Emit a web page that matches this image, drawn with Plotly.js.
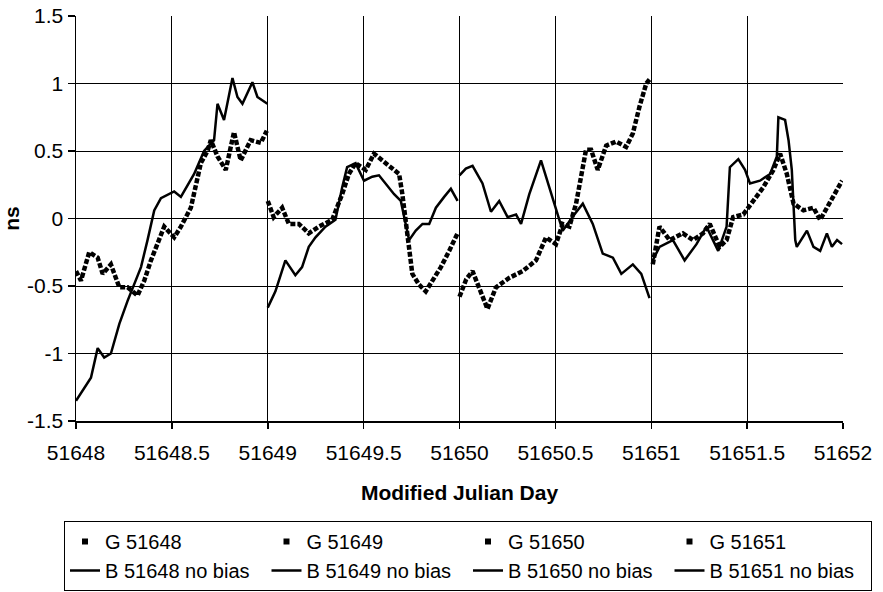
<!DOCTYPE html>
<html>
<head>
<meta charset="utf-8">
<script src="https://cdn.plot.ly/plotly-3.0.1.min.js"></script>
<style>html,body{margin:0;padding:0;background:#fff;}#chart{width:883px;height:592px;}</style>
</head>
<body>
<div id="chart"></div>
<script>
// ---- data ----
const G48_x = [51648.000,51648.026,51648.069,51648.113,51648.139,51648.182,51648.226,51648.269,51648.321,51648.356,51648.391,51648.425,51648.460,51648.512,51648.547,51648.599,51648.634,51648.651,51648.686,51648.703,51648.738,51648.781,51648.824,51648.859,51648.911,51648.964,51648.995];
const G48_y = [-0.39,-0.46,-0.25,-0.29,-0.41,-0.34,-0.51,-0.51,-0.57,-0.46,-0.31,-0.18,-0.06,-0.14,-0.06,0.08,0.28,0.41,0.50,0.58,0.46,0.36,0.64,0.43,0.58,0.56,0.65];
const B48_x = [51648.000,51648.078,51648.113,51648.147,51648.182,51648.226,51648.269,51648.304,51648.339,51648.373,51648.408,51648.443,51648.512,51648.547,51648.616,51648.668,51648.720,51648.738,51648.772,51648.816,51648.842,51648.868,51648.920,51648.946,51648.998];
const B48_y = [-1.35,-1.18,-0.96,-1.03,-1.00,-0.78,-0.61,-0.48,-0.36,-0.16,0.06,0.15,0.20,0.16,0.33,0.50,0.58,0.85,0.73,1.04,0.90,0.85,1.01,0.90,0.85];

const G49_x = [51649.000,51649.031,51649.075,51649.110,51649.162,51649.214,51649.267,51649.336,51649.388,51649.423,51649.458,51649.511,51649.554,51649.597,51649.650,51649.685,51649.702,51649.720,51649.737,51649.754,51649.789,51649.824,51649.859,51649.903,51649.946,51649.990];
const G49_y = [0.13,0.01,0.08,-0.04,-0.04,-0.11,-0.06,-0.01,0.18,0.33,0.41,0.36,0.48,0.43,0.36,0.33,0.18,-0.04,-0.26,-0.41,-0.49,-0.54,-0.46,-0.36,-0.24,-0.11];
const B49_x = [51649.000,51649.040,51649.092,51649.144,51649.179,51649.214,51649.249,51649.301,51649.353,51649.388,51649.414,51649.458,51649.502,51649.545,51649.580,51649.615,51649.659,51649.694,51649.720,51649.737,51649.772,51649.807,51649.842,51649.877,51649.920,51649.955,51649.990];
const B49_y = [-0.66,-0.54,-0.31,-0.42,-0.36,-0.21,-0.14,-0.06,-0.01,0.23,0.38,0.41,0.28,0.31,0.32,0.26,0.18,0.13,-0.06,-0.16,-0.09,-0.04,-0.04,0.08,0.16,0.22,0.13];

const G50_x = [51650.000,51650.035,51650.068,51650.103,51650.146,51650.190,51650.259,51650.329,51650.399,51650.451,51650.503,51650.538,51650.573,51650.608,51650.634,51650.660,51650.686,51650.721,51650.765,51650.817,51650.869,51650.904,51650.939,51650.974,51650.991];
const G50_y = [-0.58,-0.45,-0.39,-0.51,-0.67,-0.51,-0.44,-0.39,-0.31,-0.14,-0.19,-0.04,-0.06,0.11,0.31,0.51,0.51,0.36,0.54,0.57,0.53,0.63,0.83,1.00,1.03];
const B50_x = [51650.000,51650.033,51650.068,51650.120,51650.164,51650.207,51650.251,51650.295,51650.321,51650.364,51650.425,51650.468,51650.503,51650.538,51650.599,51650.643,51650.695,51650.747,51650.800,51650.844,51650.904,51650.948,51650.991];
const B50_y = [0.32,0.37,0.39,0.26,0.05,0.13,0.01,0.03,-0.04,0.18,0.43,0.23,0.06,-0.09,0.03,0.11,-0.04,-0.26,-0.29,-0.41,-0.34,-0.41,-0.59];

const G51_x = [51651.008,51651.043,51651.096,51651.165,51651.218,51651.270,51651.305,51651.357,51651.393,51651.427,51651.480,51651.532,51651.584,51651.637,51651.672,51651.707,51651.724,51651.742,51651.794,51651.846,51651.881,51651.916,51651.951,51651.995];
const G51_y = [-0.34,-0.06,-0.16,-0.11,-0.16,-0.11,-0.04,-0.21,-0.16,0.01,0.03,0.13,0.23,0.36,0.48,0.33,0.21,0.11,0.06,0.08,-0.01,0.08,0.18,0.28];
const B51_x = [51651.008,51651.043,51651.113,51651.174,51651.236,51651.288,51651.349,51651.393,51651.410,51651.454,51651.489,51651.515,51651.567,51651.620,51651.655,51651.663,51651.698,51651.716,51651.733,51651.751,51651.759,51651.812,51651.846,51651.881,51651.916,51651.942,51651.969,51651.995];
const B51_y = [-0.31,-0.21,-0.16,-0.31,-0.19,-0.06,-0.24,-0.06,0.38,0.44,0.36,0.26,0.28,0.33,0.46,0.75,0.73,0.58,0.36,-0.16,-0.21,-0.09,-0.21,-0.24,-0.11,-0.21,-0.16,-0.19];

const gNames = ['G 51648','G 51649','G 51650','G 51651'];
const bNames = ['B 51648 no bias','B 51649 no bias','B 51650 no bias','B 51651 no bias'];

const xTickVals = [51648,51648.5,51649,51649.5,51650,51650.5,51651,51651.5,51652];
const xTickText = ['51648','51648.5','51649','51649.5','51650','51650.5','51651','51651.5','51652'];
const yTickVals = [-1.5,-1,-0.5,0,0.5,1,1.5];
const yTickText = ['-1.5','-1','-0.5','0','0.5','1','1.5'];

const gX = [G48_x,G49_x,G50_x,G51_x], gY = [G48_y,G49_y,G50_y,G51_y];
const bX = [B48_x,B49_x,B50_x,B51_x], bY = [B48_y,B49_y,B50_y,B51_y];

const FONT = 'Liberation Sans, Arial, sans-serif';
const traces = [];
// legend entries for G series (marker symbol only)
gNames.forEach((n,i)=>traces.push({x:[null],y:[null],type:'scatter',mode:'markers',name:n,legendgroup:'g'+i,
  marker:{symbol:'square',size:6,color:'#000'},hoverinfo:'skip'}));
// B series (solid lines)
bNames.forEach((n,i)=>traces.push({x:bX[i],y:bY[i],type:'scatter',mode:'lines',name:n,
  line:{color:'#000',width:2.5},hoverinfo:'skip'}));
// G series drawn as thick square-dot lines
gNames.forEach((n,i)=>traces.push({x:gX[i],y:gY[i],type:'scatter',mode:'lines',name:n,legendgroup:'g'+i,showlegend:false,
  line:{color:'#000',width:4.5,dash:'5px,2px'},hoverinfo:'skip'}));

const layout = {
  width:883, height:592,
  margin:{l:76,r:40,t:16,b:171,autoexpand:false},
  paper_bgcolor:'#fff', plot_bgcolor:'#fff',
  font:{family:FONT,color:'#000',size:20},
  showlegend:true,
  xaxis:{range:[51648,51652],tickvals:xTickVals,ticktext:xTickText,
    showgrid:true,gridcolor:'#000',gridwidth:1,zeroline:false,
    showline:true,linecolor:'#000',linewidth:1.5,
    ticks:'outside',ticklen:6,tickcolor:'#000',tickwidth:1.5,ticklabelstandoff:6,
    tickfont:{family:FONT,size:21,color:'#000'},
    title:{text:'Modified Julian Day',font:{family:FONT,size:21,color:'#000',weight:'bold'},standoff:22},
    automargin:false},
  yaxis:{range:[-1.5,1.5],tickvals:yTickVals,ticktext:yTickText,
    showgrid:true,gridcolor:'#000',gridwidth:1,zeroline:false,
    showline:true,linecolor:'#000',linewidth:1.5,
    ticks:'outside',ticklen:7,tickcolor:'#000',tickwidth:1.5,
    tickfont:{family:FONT,size:21,color:'#000'},
    title:{text:'ns',font:{family:FONT,size:21,color:'#000',weight:'bold'},standoff:2},
    automargin:false},
  legend:{orientation:'h',xref:'paper',yref:'paper',x:(64-76)/767,y:(421-521)/405,xanchor:'left',yanchor:'top',
    bordercolor:'#000',borderwidth:1,bgcolor:'#fff',font:{family:FONT,size:20,color:'#000'},
    entrywidth:156.5,entrywidthmode:'pixels',itemwidth:30,traceorder:'normal',tracegroupgap:0}
};
Plotly.newPlot('chart',traces,layout,{staticPlot:true,displayModeBar:false});
</script>
</body>
</html>
